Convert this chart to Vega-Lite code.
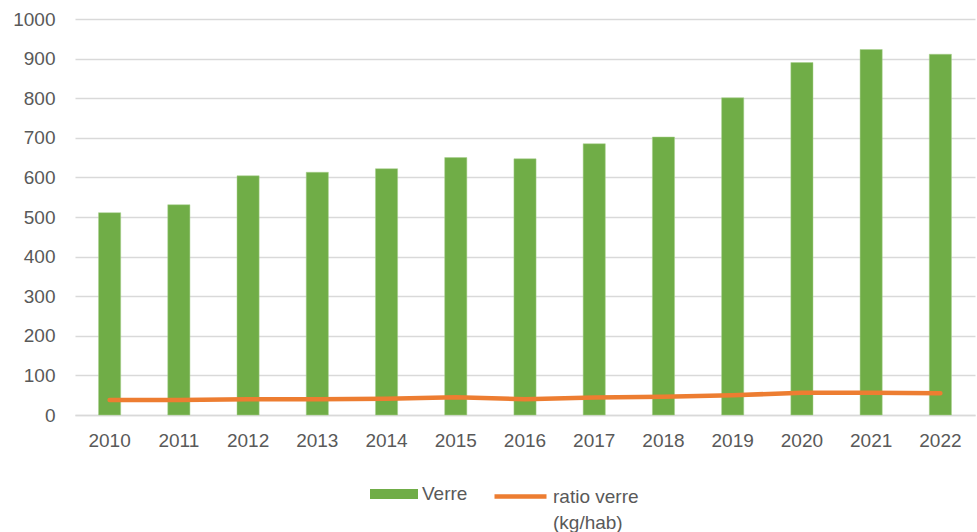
{
  "$schema": "https://vega.github.io/schema/vega-lite/v6.json",
  "width": 900,
  "height": 396,
  "autosize": {"type": "none"},
  "padding": {"left": 75, "top": 19, "right": 2, "bottom": 117},
  "background": "white",
  "config": {
    "view": {"stroke": null},
    "font": "Liberation Sans",
    "axis": {"labelFont": "Liberation Sans", "labelFontSize": 19, "labelColor": "#595959"},
    "legend": {"labelFont": "Liberation Sans", "labelFontSize": 19, "labelColor": "#595959", "padding": 0}
  },
  "data": {
    "values": [
      {"annee": "2010", "verre": 511, "ratio": 38},
      {"annee": "2011", "verre": 531, "ratio": 38},
      {"annee": "2012", "verre": 604, "ratio": 40},
      {"annee": "2013", "verre": 613, "ratio": 40},
      {"annee": "2014", "verre": 622, "ratio": 41},
      {"annee": "2015", "verre": 650, "ratio": 45},
      {"annee": "2016", "verre": 647, "ratio": 40},
      {"annee": "2017", "verre": 685, "ratio": 44},
      {"annee": "2018", "verre": 702, "ratio": 46},
      {"annee": "2019", "verre": 801, "ratio": 50},
      {"annee": "2020", "verre": 890, "ratio": 56},
      {"annee": "2021", "verre": 923, "ratio": 56},
      {"annee": "2022", "verre": 911, "ratio": 55}
    ]
  },
  "encoding": {
    "x": {
      "field": "annee",
      "type": "ordinal",
      "scale": {"paddingInner": 0.68, "paddingOuter": 0.34},
      "axis": {
        "title": null,
        "labelAngle": 0,
        "ticks": false,
        "domain": true,
        "domainColor": "#D9D9D9",
        "domainWidth": 1.5,
        "labelPadding": 16
      }
    }
  },
  "layer": [
    {
      "mark": {"type": "bar", "stroke": "#A9D18E", "strokeWidth": 0.5},
      "encoding": {
        "y": {
          "field": "verre",
          "type": "quantitative",
          "scale": {"domain": [0, 1000]},
          "axis": {
            "title": null,
            "values": [0, 100, 200, 300, 400, 500, 600, 700, 800, 900, 1000],
            "format": "d",
            "ticks": false,
            "domain": false,
            "gridColor": "#D9D9D9",
            "gridWidth": 1.5,
            "labelPadding": 20
          }
        },
        "fill": {
          "datum": "Verre",
          "type": "nominal",
          "scale": {"domain": ["Verre"], "range": ["#70AD47"]},
          "legend": {
            "title": null,
            "orient": "none",
            "legendX": 295,
            "legendY": 451,
            "symbolType": "M-1,-0.2083H1V0.2083H-1Z",
            "symbolSize": 2304,
            "symbolStrokeWidth": 0,
            "labelOffset": 4
          }
        }
      }
    },
    {
      "mark": {"type": "line", "strokeWidth": 4.5, "strokeCap": "round"},
      "encoding": {
        "y": {
          "field": "ratio",
          "type": "quantitative",
          "axis": {
            "title": null,
            "values": [0, 100, 200, 300, 400, 500, 600, 700, 800, 900, 1000],
            "format": "d",
            "ticks": false,
            "domain": false,
            "gridColor": "#D9D9D9",
            "gridWidth": 1.5,
            "labelPadding": 20
          }
        },
        "stroke": {
          "datum": "ratio verre (kg/hab)",
          "type": "nominal",
          "scale": {"domain": ["ratio verre (kg/hab)"], "range": ["#ED7D31"]},
          "legend": {
            "title": null,
            "orient": "none",
            "legendX": 417,
            "legendY": 449,
            "symbolType": "stroke",
            "symbolSize": 2704,
            "symbolStrokeWidth": 4.5,
            "labelOffset": 4,
            "labelBaseline": "middle",
            "labelExpr": "['ratio verre', '(kg/hab)']",
            "encode": {"labels": {"update": {"lineHeight": {"value": 26}}}}
          }
        }
      }
    }
  ]
}
